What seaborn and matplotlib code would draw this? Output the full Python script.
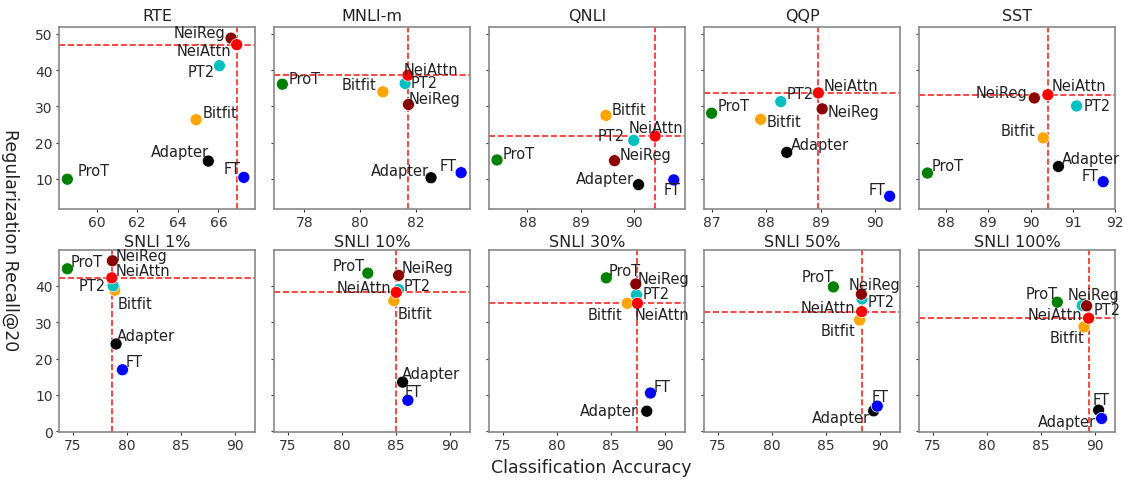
import numpy as np
import pandas as pd
import matplotlib
matplotlib.use("Agg")
import matplotlib.pyplot as plt
import seaborn as sns

# methods and colours
methods = ["ProT", "Bitfit", "Adapter", "FT", "PT2", "NeiReg", "NeiAttn"]
colors = ["green", "orange", "black", "blue", "c", "darkred", "red"]

tasks = ["RTE", "MNLI-m", "QNLI", "QQP", "SST",
         "SNLI 1%", "SNLI 10%", "SNLI 30%", "SNLI 50%", "SNLI 100%"]

# classification accuracy (x) per task, in order of `methods`
acc_rte = [58.56, 64.9, 65.5, 67.25, 66.05, 66.62, 66.9]
acc_mnli = [77.21, 80.82, 82.55, 83.63, 81.62, 81.74, 81.72]
acc_qnli = [87.43, 89.47, 90.08, 90.74, 89.99, 89.63, 90.39]
acc_qqp = [87.0, 87.9, 88.38, 90.27, 88.27, 89.03, 88.96]
acc_sst = [87.56, 90.30, 90.66, 91.72, 91.09, 90.09, 90.41]
acc_snli1 = [74.48, 78.88, 79.0, 79.59, 78.72, 78.66, 78.6]
acc_snli10 = [82.41, 84.83, 85.64, 86.13, 85.27, 85.27, 85.05]
acc_snli30 = [84.59, 86.53, 88.35, 88.69, 87.39, 87.33, 87.48]
acc_snli50 = [85.71, 88.15, 89.45, 89.79, 88.37, 88.31, 88.34]
acc_snli100 = [86.54, 89.02, 90.38, 90.66, 88.86, 89.26, 89.45]

# regularization recall@20 (y) per task
rec_rte = [9.9, 26.3, 14.9, 10.4, 41.2, 48.8, 47.0]
rec_mnli = [36.1, 34.0, 10.3, 11.7, 36.3, 30.5, 38.6]
rec_qnli = [15.2, 27.5, 8.4, 9.7, 20.6, 15.0, 21.8]
rec_qqp = [28.1, 26.4, 17.3, 5.2, 31.3, 29.3, 33.7]
rec_sst = [11.6, 21.3, 13.4, 9.2, 30.1, 32.3, 33.2]
rec_snli1 = [44.7, 38.8, 24.0, 16.9, 40.0, 46.9, 42.2]
rec_snli10 = [43.5, 35.9, 13.5, 8.5, 39.0, 42.9, 38.2]
rec_snli30 = [42.2, 35.2, 5.5, 10.5, 37.5, 40.5, 35.2]
rec_snli50 = [39.7, 30.6, 5.6, 6.9, 36.4, 37.7, 32.9]
rec_snli100 = [35.5, 28.7, 5.8, 3.5, 34.6, 34.5, 31.1]

accs = [acc_rte, acc_mnli, acc_qnli, acc_qqp, acc_sst,
        acc_snli1, acc_snli10, acc_snli30, acc_snli50, acc_snli100]
recs = [rec_rte, rec_mnli, rec_qnli, rec_qqp, rec_sst,
        rec_snli1, rec_snli10, rec_snli30, rec_snli50, rec_snli100]

# label offsets (pixels, image direction) per task, in order of `methods`
offsets = [
    [(26, -9), (24, -7), (-28, -10), (-12, -9), (-18, 6), (-32, -6), (-33, 6)],
    [(22, -6), (-24, -7), (-31, -7), (-13, -7), (19, -1), (26, -6), (23, -6)],
    [(22, -6), (23, -6), (-34, -6), (-2, 10), (-23, -5), (31, -6), (1, -9)],
    [(22, -8), (23, 2), (33, -8), (-13, -7), (19, -8), (31, 3), (33, -7)],
    [(20, -8), (-25, -7), (33, -8), (-13, -6), (21, 0), (-33, -5), (31, -9)],
    [(19, -7), (20, 13), (30, -8), (12, -8), (-21, 0), (29, -5), (31, -7)],
    [(-19, -8), (21, 13), (28, -9), (5, -9), (19, -4), (29, -8), (-32, -5)],
    [(18, -7), (-22, 11), (-38, -1), (12, -7), (20, -1), (28, -6), (25, 11)],
    [(-16, -10), (-22, 11), (-33, 7), (3, -10), (19, 3), (13, -10), (-34, -4)],
    [(-16, -9), (-17, 11), (-32, 11), (-1, -19), (25, 4), (7, -11), (-34, -4)],
]

top_xlims = [(58.15, 67.8), (76.91, 83.95), (87.28, 90.95), (86.86, 90.46), (87.36, 91.95)]
top_xticks = [[60, 62, 64, 66], [78, 80, 82], [88, 89, 90], [87, 88, 89, 90], [88, 89, 90, 91, 92]]

sns.set_style("ticks")
plt.rcParams["font.family"] = ["DejaVu Sans"]

fig, axes = plt.subplots(2, 5, figsize=(11.24, 4.81), dpi=100, sharey="row")
fig.subplots_adjust(left=0.0525, right=0.992, top=0.942, bottom=0.1, wspace=0.097, hspace=0.225)

palette = dict(zip(methods, colors))
for i, ax in enumerate(axes.flat):
    df = pd.DataFrame({"method": methods, "acc": accs[i], "rec": recs[i]})
    ref = df[df.method == "NeiAttn"].iloc[0]
    ax.axvline(ref.acc, color="red", ls="--", lw=1.2, alpha=0.85, zorder=1)
    ax.axhline(ref.rec, color="red", ls="--", lw=1.2, alpha=0.85, zorder=1)
    sns.scatterplot(data=df, x="acc", y="rec", hue="method", palette=palette,
                    s=75, legend=False, ax=ax, zorder=3, edgecolor="white", linewidth=0.5)
    for j, m in enumerate(methods):
        dx, dy = offsets[i][j]
        ax.annotate(m, (df.acc[j], df.rec[j]), xytext=(dx * 0.72, -dy * 0.72),
                    textcoords="offset points", ha="center", va="center",
                    fontsize=10.5, color="#222222")
    ax.set_title(tasks[i], fontsize=11.5, color="#222222", pad=5 if i < 5 else 3)
    ax.set_xlabel("")
    ax.set_ylabel("")
    ax.tick_params(labelsize=10, colors="#333333", length=2.5, pad=2)
    for sp in ax.spines.values():
        sp.set_color("#888888")
        sp.set_linewidth(1.2)
    if i < 5:
        ax.set_xlim(*top_xlims[i])
        ax.set_xticks(top_xticks[i])
        ax.set_ylim(1.7, 51.9)
        ax.set_yticks([10, 20, 30, 40, 50])
    else:
        ax.set_xlim(73.7, 91.9)
        ax.set_ylim(-0.2, 49.9)
        ax.set_xticks([75, 80, 85, 90])
        ax.set_yticks([0, 10, 20, 30, 40])

fig.text(0.526, 0.028, "Classification Accuracy", ha="center", va="center", fontsize=12.5, color="#222222")
fig.text(0.009, 0.5, "Regularization Recall@20", ha="center", va="center", rotation=270,
         fontsize=12.5, color="#222222")

fig.savefig("out.png", dpi=100)
